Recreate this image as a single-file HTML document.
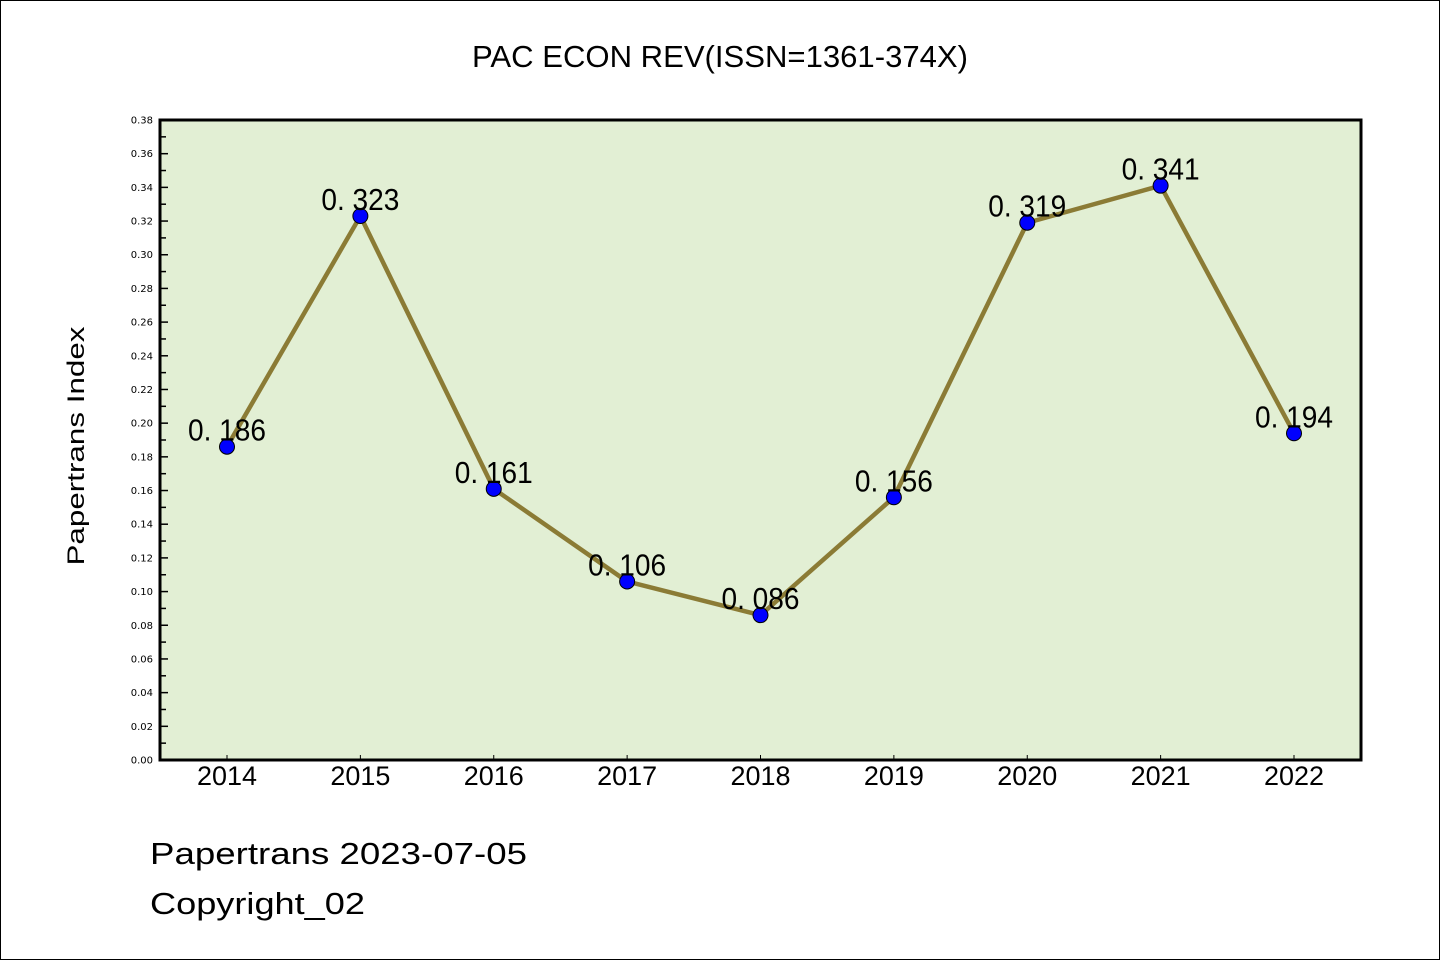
<!DOCTYPE html>
<html><head><meta charset="utf-8"><style>
html,body{margin:0;padding:0;background:#fff}
svg{display:block}
text{font-family:"Liberation Sans","DejaVu Sans",sans-serif}
</style></head><body>
<svg id="chart" width="1440" height="960" xmlns="http://www.w3.org/2000/svg">
<rect x="0.5" y="0.5" width="1439" height="959" fill="#fff" stroke="#000" stroke-width="1"/>
<text x="720" y="67" font-size="31" text-anchor="middle" textLength="496" lengthAdjust="spacingAndGlyphs">PAC ECON REV(ISSN=1361-374X)</text>
<rect x="160" y="120" width="1201" height="640" fill="#e2efd4"/>
<g id="yticks"></g><g id="xticks"></g>
<g id="series"></g>
<rect x="160" y="120" width="1201" height="640" fill="none" stroke="#000" stroke-width="3"/>
<text transform="translate(84,446) rotate(-90)" font-size="24" text-anchor="middle" textLength="239" lengthAdjust="spacingAndGlyphs">Papertrans Index</text>
<text x="150" y="864" font-size="31" textLength="377" lengthAdjust="spacingAndGlyphs">Papertrans 2023-07-05</text>
<text x="150" y="914" font-size="31" textLength="215" lengthAdjust="spacingAndGlyphs">Copyright_02</text>
</svg>
<script>
const years=["2014","2015","2016","2017","2018","2019","2020","2021","2022"];
const values=[0.186,0.323,0.161,0.106,0.086,0.156,0.319,0.341,0.194];
const labels=["0. 186","0. 323","0. 161","0. 106","0. 086","0. 156","0. 319","0. 341","0. 194"];
const yTickLabels=["0.00","0.02","0.04","0.06","0.08","0.10","0.12","0.14","0.16","0.18","0.20","0.22","0.24","0.26","0.28","0.30","0.32","0.34","0.36","0.38"];
const NS="http://www.w3.org/2000/svg";
const yMax=0.38;
function yScale(v){return 760-v/yMax*640;}
function xScale(i){return 227+i*(1294-227)/(years.length-1);}
function mk(t,a,p){const e=document.createElementNS(NS,t);for(const k in a)e.setAttribute(k,a[k]);p.appendChild(e);return e;}
const yt=document.getElementById('yticks');
for(let k=0;k<yTickLabels.length;k++){
  const v=parseFloat(yTickLabels[k]);const y=yScale(v);
  const l=mk('line',{x1:160,x2:168,y1:y,y2:y,stroke:'#000','stroke-width':1.5},yt);
  
  
  const t=mk('text',{x:153,y:y+3.5,'font-size':10,'text-anchor':'end',style:'font-family:"DejaVu Sans",sans-serif'},yt);
  t.textContent=yTickLabels[k];
  
  
  if(k<yTickLabels.length-1){const ym=yScale(v+0.01);
    const m=mk('line',{x1:160,x2:166,y1:ym,y2:ym,stroke:'#000','stroke-width':1.5},yt);
    
    }
}
const xt=document.getElementById('xticks');
years.forEach((yr,i)=>{const x=xScale(i);
  const l=mk('line',{x1:x,x2:x,y1:760,y2:755,stroke:'#000','stroke-width':1},xt);
  
  
  const t=mk('text',{x:x,y:785,'font-size':27,'text-anchor':'middle',textLength:60,lengthAdjust:'spacingAndGlyphs'},xt);
  t.textContent=yr;
  
  
});
const s=document.getElementById('series');
const pts=values.map((v,i)=>xScale(i)+','+yScale(v)).join(' ');
const pl=mk('polyline',{points:pts,fill:'none',stroke:'#8b7b35','stroke-width':4.5,'stroke-linejoin':'round'},s);


values.forEach((v,i)=>{
  const c=mk('circle',{cx:xScale(i),cy:yScale(v),r:7.5,fill:'#0000ff',stroke:'#000','stroke-width':1},s);
  
  
});
values.forEach((v,i)=>{
  const t=mk('text',{x:xScale(i),y:yScale(v)-6,'font-size':31,'text-anchor':'middle',textLength:78,lengthAdjust:'spacingAndGlyphs'},s);
  t.textContent=labels[i];
  
  
});
</script>
</body></html>
